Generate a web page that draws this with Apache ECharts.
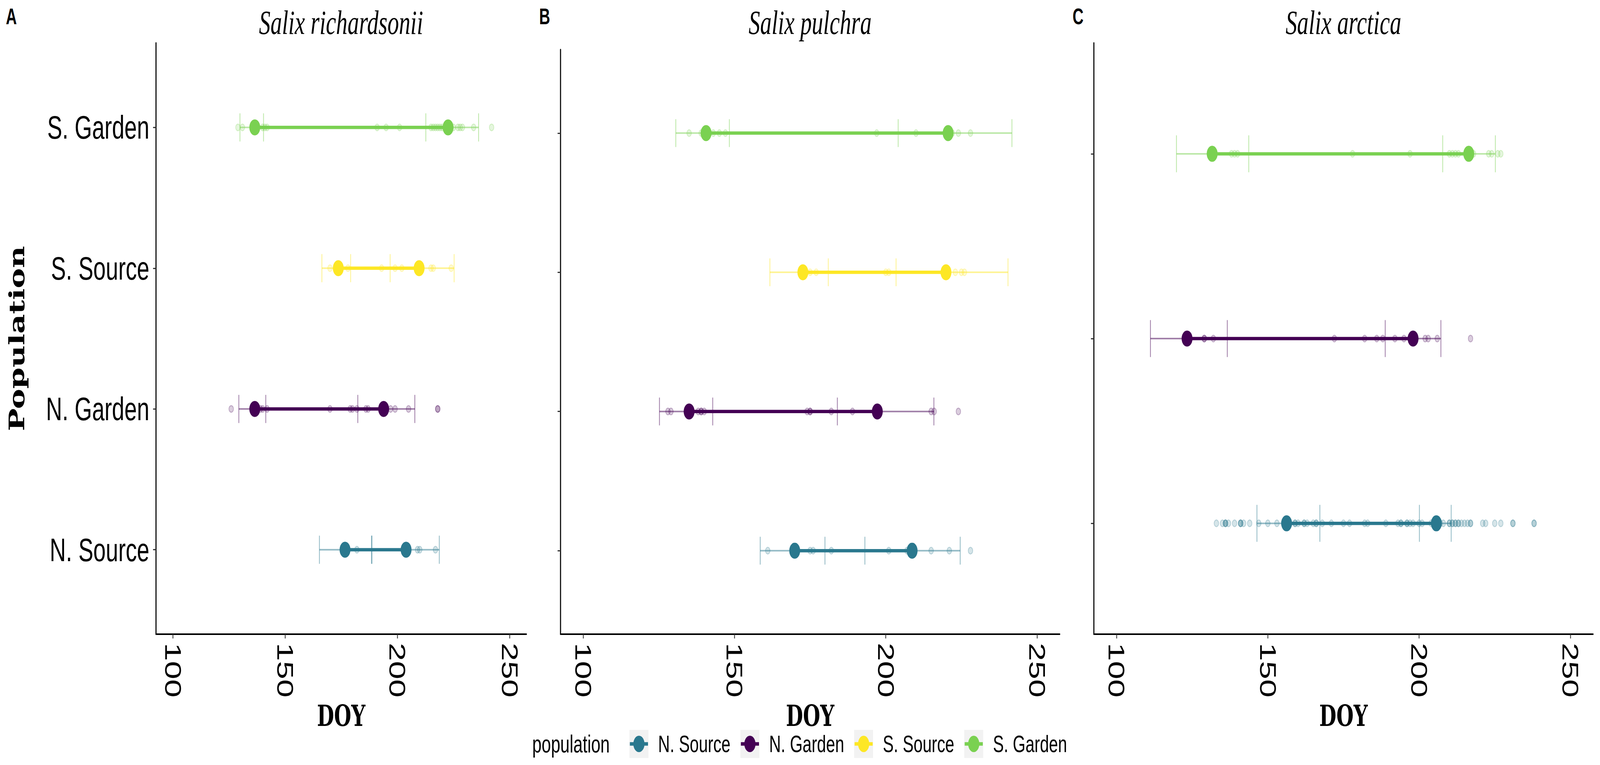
<!DOCTYPE html>
<html><head><meta charset="utf-8">
<script src="https://cdn.jsdelivr.net/npm/echarts@6/dist/echarts.min.js"></script>
<style>html,body{margin:0;padding:0;background:#fff;overflow:hidden}#c{width:6000px;height:1959px;transform-origin:0 0}</style>
</head><body><div id="c"></div>
<script>
// ---------- data ----------
const populations = ['N. Source', 'N. Garden', 'S. Source', 'S. Garden'];
const popColors = ['#2A788E', '#440154', '#FDE725', '#7AD151'];
const speciesTitles = ['Salix richardsonii', 'Salix pulchra', 'Salix arctica'];
const panelLetters = ['A', 'B', 'C'];
const xTicks = [100, 150, 200, 250];

// Panel A: Salix richardsonii (order: N. Source, N. Garden, S. Source, S. Garden)
const richPops = [0, 1, 2, 3];
const richStartMean = [176.7, 136.5, 173.7, 136.5];
const richEndMean   = [203.9, 193.9, 209.7, 222.6];
const richStartLo   = [165.3, 129.4, 166.4, 129.9];
const richStartHi   = [188.5, 141.4, 179.2, 140.4];
const richEndLo     = [188.7, 182.4, 196.8, 212.7];
const richEndHi     = [218.7, 207.8, 225.3, 236.2];
const richRaw = [
  [182, 209, 210, 217],
  [126, 139, 140, 142, 170, 179, 180, 182, 186, 187, 197, 199, 205, 218, 218],
  [170, 178, 193, 199, 202, 215, 216, 224],
  [129, 131, 140, 141, 142, 191, 195, 201, 215, 216, 217, 218, 219, 220, 225, 227, 228, 229, 234, 242]
];

// Panel B: Salix pulchra
const pulPops = [0, 1, 2, 3];
const pulStartMean = [169.9, 135.0, 172.6, 140.6];
const pulEndMean   = [208.7, 197.2, 219.9, 220.6];
const pulStartLo   = [158.5, 125.2, 161.7, 130.6];
const pulStartHi   = [179.9, 142.8, 181.0, 148.3];
const pulEndLo     = [193.1, 184.0, 203.4, 204.1];
const pulEndHi     = [224.6, 215.9, 240.4, 241.7];
const pulRaw = [
  [161, 175, 176, 182, 201, 207, 215, 221, 228],
  [128, 129, 138, 139, 139, 140, 174, 175, 175, 182, 189, 215, 216, 224],
  [175, 177, 200, 201, 223, 225, 226],
  [135, 139, 143, 145, 147, 197, 210, 222, 224, 228]
];

// Panel C: Salix arctica (order: N. Source, N. Garden, S. Garden)
const arcPops = [0, 1, 3];
const arcStartMean = [156.2, 123.3, 131.6];
const arcEndMean   = [205.7, 198.0, 216.4];
const arcStartLo   = [146.4, 111.2, 119.8];
const arcStartHi   = [167.2, 136.6, 143.7];
const arcEndLo     = [200.1, 188.8, 207.8];
const arcEndHi     = [210.6, 207.2, 225.2];
const arcRaw = [
  [133, 135, 136, 136, 136, 137, 139, 141, 141, 141, 142, 144, 147, 150, 153, 159, 159, 160, 162, 162, 163, 165, 166, 166, 168, 171, 175, 177, 182, 183, 189, 193, 194, 194, 196, 196, 197, 198, 200, 201, 204, 207, 208, 210, 210, 211, 211, 212, 212, 213, 213, 214, 215, 216, 217, 217, 221, 222, 225, 227, 231, 231, 238, 238],
  [129, 129, 132, 172, 182, 186, 188, 192, 195, 202, 203, 206, 217],
  [138, 139, 140, 178, 197, 210, 211, 212, 213, 218, 223, 224, 226, 227]
];

// ---------- build ----------
const W = 6000, H = 1959;
const panels = [
  {pops: richPops, sm: richStartMean, em: richEndMean, sl: richStartLo, sh: richStartHi, el: richEndLo, eh: richEndHi, raw: richRaw},
  {pops: pulPops, sm: pulStartMean, em: pulEndMean, sl: pulStartLo, sh: pulStartHi, el: pulEndLo, eh: pulEndHi, raw: pulRaw},
  {pops: arcPops, sm: arcStartMean, em: arcEndMean, sl: arcStartLo, sh: arcStartHi, el: arcEndLo, eh: arcEndHi, raw: arcRaw}
];
const gridBoxes = [
  {left: 585, top: 110, width: 1389, height: 1514},
  {left: 2102, top: 127, width: 1872, height: 1497},
  {left: 4102, top: 110, width: 1872, height: 1514}
];
const titleCenters = [1279, 3038, 5038];
const letterLefts = [22, 2022, 4022];

function rgba(hex, a) {
  const n = parseInt(hex.slice(1), 16);
  return 'rgba(' + (n >> 16 & 255) + ',' + (n >> 8 & 255) + ',' + (n & 255) + ',' + a + ')';
}

const FONT = 'Liberation Sans';
const grids = [], xAxes = [], yAxes = [], series = [], titles = [];

panels.forEach(function (p, k) {
  const n = p.pops.length;
  const yNames = p.pops.map(function (i) { return populations[i]; });
  grids.push(Object.assign({containLabel: false}, gridBoxes[k]));
  xAxes.push({
    gridIndex: k, type: 'value', min: 92.5, max: 257.5,
    axisLine: {show: true, onZero: false, lineStyle: {color: '#000', width: 4}},
    axisTick: {show: true, customValues: xTicks, length: 11, lineStyle: {color: '#333', width: 3}},
    axisLabel: {show: true, customValues: xTicks, rotate: -90, margin: 22, fontSize: 84, fontFamily: FONT, color: '#000'},
    splitLine: {show: false},
    name: 'DOY', nameLocation: 'middle', nameGap: 172,
    nameTextStyle: {fontFamily: 'DejaVu Serif', fontWeight: 'bold', fontSize: 74, color: '#000'}
  });
  const yt = [];
  for (let i = 1; i <= n; i++) yt.push(i);
  yAxes.push({
    gridIndex: k, type: 'value', min: 0.4, max: n + 0.6,
    axisLine: {show: true, onZero: false, lineStyle: {color: '#000', width: 4}},
    axisTick: {show: true, customValues: yt, length: 11, lineStyle: {color: '#333', width: 3}},
    axisLabel: {show: k === 0, customValues: yt, margin: 25, fontSize: 84, fontFamily: FONT, color: '#000',
      formatter: function (v) { return yNames[Math.round(v) - 1]; }},
    splitLine: {show: false},
    name: k === 0 ? 'Population' : '', nameLocation: 'middle', nameRotate: 90, nameGap: 482,
    nameTextStyle: {fontFamily: 'DejaVu Serif', fontWeight: 'bold', fontSize: 78, color: '#000'}
  });

  // error bars: [lo, hi, y, popIndex]; segments: [startMean, endMean, y, popIndex]
  const errData = [], segData = [];
  p.pops.forEach(function (pi, j) {
    const y = j + 1;
    errData.push([p.sl[j], p.sh[j], y, pi]);
    errData.push([p.el[j], p.eh[j], y, pi]);
    segData.push([p.sm[j], p.em[j], y, pi]);
  });
  series.push({
    type: 'custom', name: 'err' + k, xAxisIndex: k, yAxisIndex: k, z: 2, silent: true,
    encode: {x: [0, 1], y: 2},
    data: errData,
    renderItem: function (params, api) {
      const a = api.coord([api.value(0), api.value(2)]);
      const b = api.coord([api.value(1), api.value(2)]);
      const half = api.size([0, 0.1])[1];
      const c = rgba(popColors[api.value(3)], 0.5);
      return {type: 'group', children: [
        {type: 'line', shape: {x1: a[0], y1: a[1], x2: b[0], y2: b[1]}, style: {stroke: c, lineWidth: 4}},
        {type: 'line', shape: {x1: a[0], y1: a[1] - half, x2: a[0], y2: a[1] + half}, style: {stroke: c, lineWidth: 3}},
        {type: 'line', shape: {x1: b[0], y1: b[1] - half, x2: b[0], y2: b[1] + half}, style: {stroke: c, lineWidth: 3}}
      ]};
    }
  });
  series.push({
    type: 'custom', name: 'seg' + k, xAxisIndex: k, yAxisIndex: k, z: 3, silent: true,
    encode: {x: [0, 1], y: 2},
    data: segData,
    renderItem: function (params, api) {
      const a = api.coord([api.value(0), api.value(2)]);
      const b = api.coord([api.value(1), api.value(2)]);
      return {type: 'line', shape: {x1: a[0], y1: a[1], x2: b[0], y2: b[1]},
        style: {stroke: popColors[api.value(3)], lineWidth: 8.5}};
    }
  });
  p.pops.forEach(function (pi, j) {
    const y = j + 1;
    series.push({
      type: 'scatter', name: populations[pi] + ' raw', xAxisIndex: k, yAxisIndex: k, z: 4, silent: true,
      symbol: 'circle', symbolSize: 17,
      itemStyle: {color: rgba(popColors[pi], 0.24), borderColor: rgba(popColors[pi], 0.34), borderWidth: 2.5},
      data: p.raw[j].map(function (v) { return [v, y]; })
    });
    series.push({
      type: 'scatter', name: populations[pi], xAxisIndex: k, yAxisIndex: k, z: 5, silent: true,
      symbol: 'circle', symbolSize: 41,
      itemStyle: {color: popColors[pi], opacity: 1},
      data: [[p.sm[j], y], [p.em[j], y]]
    });
  });

  titles.push({text: panelLetters[k], left: letterLefts[k], top: 14, padding: 0,
    textStyle: {fontFamily: FONT, fontWeight: 'bold', fontSize: 57, color: '#000'}});
  titles.push({text: speciesTitles[k], left: titleCenters[k], textAlign: 'center', top: 15, padding: 0,
    textStyle: {fontFamily: 'Liberation Serif', fontStyle: 'italic', fontWeight: 'normal', fontSize: 86, color: '#000'}});
});
titles.push({text: 'population', left: 1996, top: 1873, padding: 0,
  textStyle: {fontFamily: FONT, fontWeight: 'normal', fontSize: 63, color: '#000'}});

// legend key: grey key background with the point + line glyph in the population colour
function keyIcon(color) {
  const svg = "<svg xmlns='http://www.w3.org/2000/svg' width='72' height='72' viewBox='0 0 72 72'>" +
    "<rect x='0' y='0' width='72' height='72' fill='#F2F2F2'/>" +
    "<rect x='2' y='31.5' width='68' height='9' fill='" + color + "'/>" +
    "<circle cx='36' cy='36' r='21' fill='" + color + "'/></svg>";
  return 'image://data:image/svg+xml;charset=utf-8,' + encodeURIComponent(svg);
}

const option = {
  backgroundColor: '#fff',
  animation: false,
  title: titles,
  grid: grids,
  xAxis: xAxes,
  yAxis: yAxes,
  legend: {
    data: populations.map(function (nm, i) { return {name: nm, icon: keyIcon(popColors[i])}; }),
    left: 2360, top: 1869, orient: 'horizontal', itemWidth: 72, itemHeight: 72, itemGap: 37, padding: 0,
    selectedMode: false,
    textStyle: {fontFamily: FONT, fontSize: 61, color: '#000', padding: [0, 0, 0, 31]}
  },
  series: series
};

// The browser window may be narrower than the 6000x1959 design; fit the page to it.
const el = document.getElementById('c');
const sx = Math.min(1, window.innerWidth / W), sy = Math.min(1, window.innerHeight / H);
el.style.transform = 'scale(' + sx + ',' + sy + ')';
const chart = echarts.init(el, null, {renderer: 'svg', width: W, height: H});
chart.setOption(option);
</script>
</body></html>
